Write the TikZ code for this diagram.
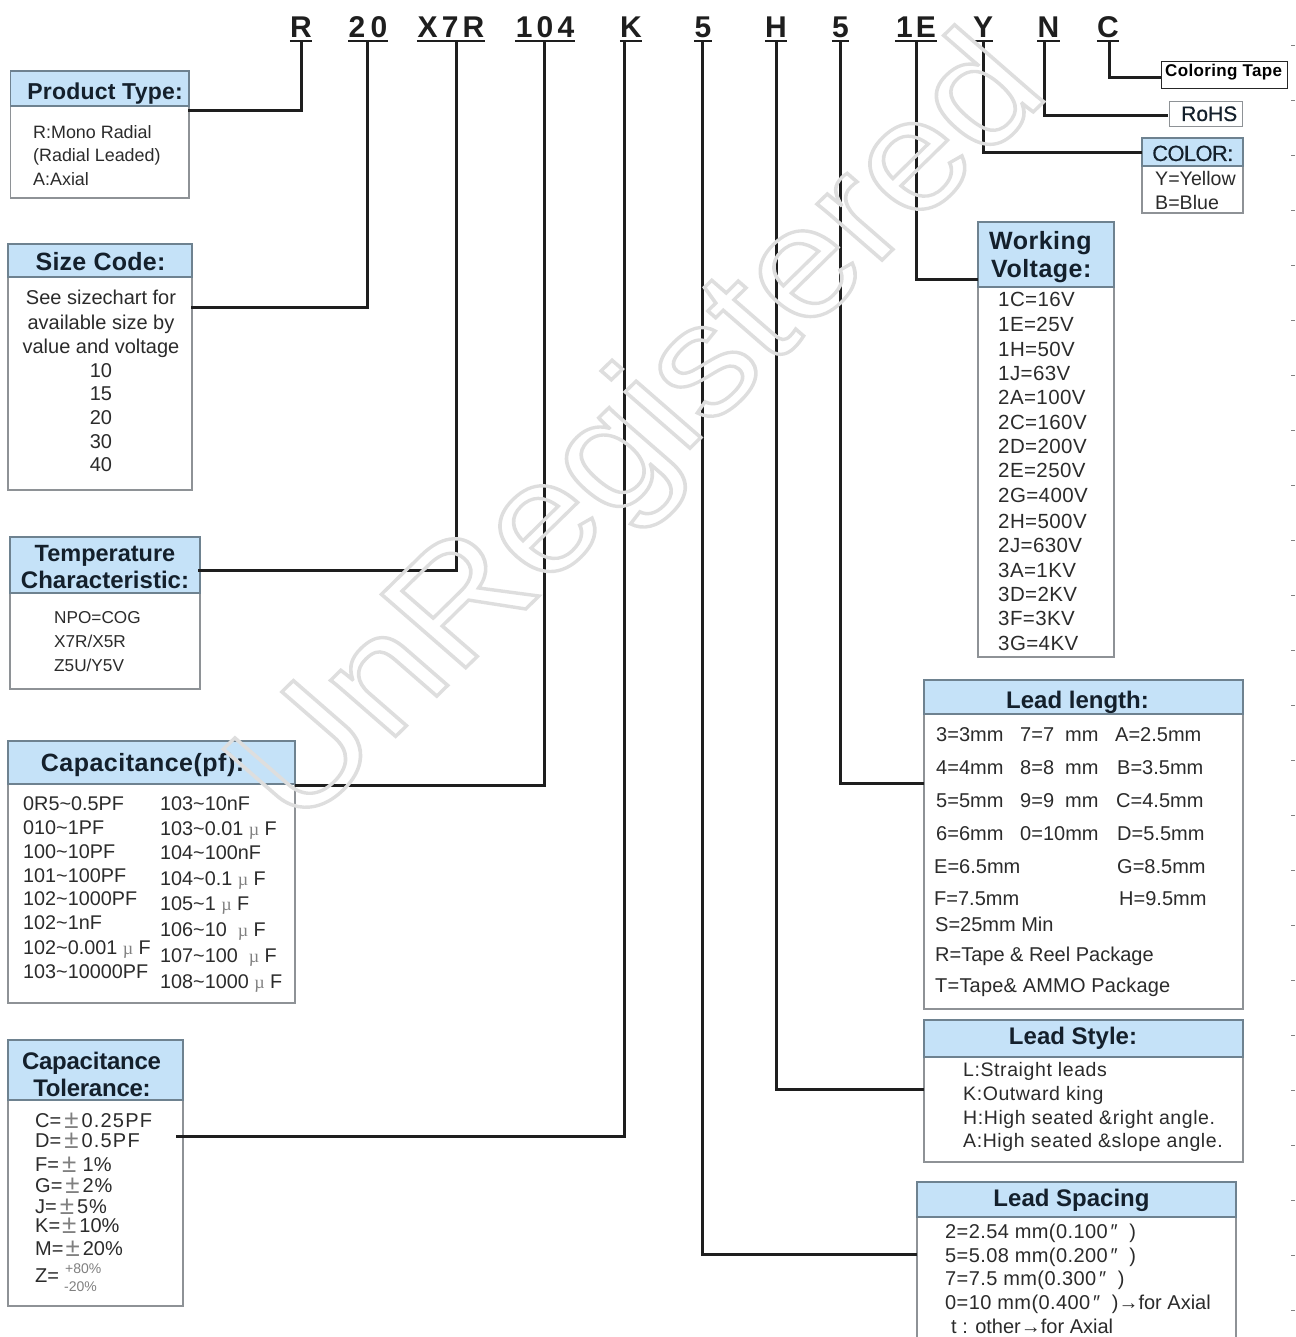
\documentclass[tikz,border=0pt]{standalone}
\usepackage{fontspec}
\setmainfont{Liberation Sans}
\newfontfamily\serifmu{Liberation Serif}
\definecolor{hdrfill}{HTML}{C5E2F8}
\definecolor{hdrline}{HTML}{6E8290}
\definecolor{bodyline}{HTML}{8E9296}
\definecolor{ink}{HTML}{2B2B2B}
\definecolor{headink}{HTML}{14202C}
\definecolor{wire}{HTML}{1E1E1E}
\newcommand{\szv}{20}
\newcommand{\setsz}[1]{\renewcommand{\szv}{#1}}
\newcommand{\trk}[2]{{\addfontfeature{LetterSpace=#1}#2}}
\newcommand{\pmk}{\hspace{3pt}{\color{gray}\fontsize{26}{26}\selectfont\raisebox{-1pt}{±}}\hspace{3pt}}
\newcommand{\muk}{{\color{gray}\serifmu\fontsize{18}{18}\selectfont µ}}
\newcommand{\primek}{\hspace{3pt}{\fontsize{20}{20}\selectfont ″}\hspace{6pt}}
\newcounter{tlc}
% body text line: x, baseline y, text
\newcommand{\tl}[3]{\stepcounter{tlc}\node[linetext] (tl\thetlc) at (#1,#2) {\fontsize{\szv}{\szv}\selectfont #3};}
\newcommand{\tc}[3]{\stepcounter{tlc}\node[linetext,anchor=base] (tl\thetlc) at (#1,#2) {\fontsize{\szv}{\szv}\selectfont #3};}
\newcommand{\hd}[4]{\stepcounter{tlc}\node[headtext] (tl\thetlc) at (#1,#2) {\fontsize{#3}{#3}\selectfont #4};}
% panel: name x0 y0 split x1 y1
\newcommand{\panel}[6]{%
 \node[bodybox,minimum width={(#5-#2)*1pt},minimum height={(#6-#3)*1pt}] (#1) at (#2,#3) {};
 \node[headbox,minimum width={(#5-#2)*1pt},minimum height={(#4-#3)*1pt}] (#1h) at (#2,#3) {};
}
\newcommand{\codeN}[5]{% name, left x, right x, text, tracking
 \node[codetext,minimum width={(#3-#2)*1pt}] (#1) at ({(#2+#3)/2},38) {\trk{#5}{#4}};
 \draw[codebar] (#1.south west) -- (#1.south east);
}
\tikzset{
 bodybox/.style={draw=bodyline,line width=1.1pt,fill=white,anchor=north west,inner sep=0pt,outer sep=0pt},
 headbox/.style={draw=hdrline,line width=1.1pt,fill=hdrfill,anchor=north west,inner sep=0pt,outer sep=0pt},
 linetext/.style={anchor=base west,inner sep=0pt,text=ink},
 headtext/.style={anchor=base,inner sep=0pt,text=headink,font=\bfseries},
 codetext/.style={anchor=base,inner sep=0pt,text=wire,font=\bfseries\fontsize{30}{30}\selectfont,text depth=2.5pt},
 codebar/.style={draw=wire,line width=1.8pt},
 wirel/.style={draw=wire,line width=3pt,line join=miter},
 tick/.style={draw=gray,line width=0.8pt},
}
\begin{document}
\begin{tikzpicture}[x=1pt,y=-1pt]
\useasboundingbox (0,0) rectangle (1295,1337);
% margin ticks
\foreach \k in {0,...,23} {\draw[tick] (1291,{45+55*\k}) -- (1295,{45+55*\k});}
% code letters
\codeN{cR}{290}{312}{R}{0}
\codeN{cS}{349}{387}{20}{18}
\codeN{cT}{417}{485}{X7R}{14}
\codeN{cV}{515}{575}{104}{14}
\codeN{cK}{620}{642}{K}{0}
\codeN{cP}{695}{711}{5}{0}
\codeN{cH}{765}{787}{H}{0}
\codeN{cL}{832}{849}{5}{0}
\codeN{cW}{895}{937}{1E}{10}
\codeN{cY}{973}{993}{Y}{0}
\codeN{cN}{1038}{1059}{N}{0}
\codeN{cC}{1098}{1118}{C}{0}
% panels
\panel{ptype}{10.5}{71}{106}{189}{198}
\panel{size}{8}{244}{277}{192}{490}
\panel{temp}{10}{537}{593}{200}{689}
\panel{capv}{8}{741}{784}{295}{1003}
\panel{tol}{8}{1040}{1100}{183}{1306}
\panel{volt}{978}{222}{287}{1114}{657}
\panel{llen}{924}{680}{714}{1243}{1009}
\panel{lsty}{924}{1020}{1057}{1243}{1162}
\panel{color}{1142}{138}{166}{1243}{213}
\node[draw=bodyline,line width=1.1pt,fill=white,anchor=north west,inner sep=0pt,minimum width=73pt,minimum height=25pt] (rohs) at (1169,101) {};
\node[draw=black!85,line width=1.1pt,fill=white,anchor=north west,inner sep=0pt,minimum width=126pt,minimum height=27pt] (tape) at (1161,61) {};
% lead spacing: runs off the page
\node[bodybox,draw=none,minimum width=319pt,minimum height=155pt] (lspc) at (917,1182) {};
\draw[bodyline,line width=1.1pt] (lspc.north west) -- (lspc.south west);
\draw[bodyline,line width=1.1pt] (lspc.north east) -- (lspc.south east);
\node[headbox,minimum width=319pt,minimum height=35pt] (lspch) at (917,1182) {};
% ports
\coordinate (pR) at (188,111);
\coordinate (pS) at (191,307);
\coordinate (pT) at (198,570);
\coordinate (pV) at (295,785);
\coordinate (pK) at (176,1136);
\coordinate (pP) at (917,1254);
\coordinate (pH) at (924,1089);
\coordinate (pL) at (924,783);
\coordinate (pW) at (978,280);
\coordinate (pY) at (1142,153);
\coordinate (pN) at (1168,116);
\coordinate (pC) at (1161,78);
\draw[wirel] (cR.south) |- (pR);
\draw[wirel] ([xshift=-1pt]cS.south) |- (pS);
\draw[wirel] ([xshift=5pt]cT.south) |- (pT);
\draw[wirel] ([xshift=-1pt]cV.south) |- (pV);
\draw[wirel] ([xshift=-6.5pt]cK.south) |- (pK);
\draw[wirel] ([xshift=-1pt]cP.south) |- (pP);
\draw[wirel] (cH.south) |- (pH);
\draw[wirel] (cL.south) |- (pL);
\draw[wirel] (cW.south) |- (pW);
\draw[wirel] (cY.south) |- (pY);
\draw[wirel] ([xshift=-4.5pt]cN.south) |- (pN);
\draw[wirel] ([xshift=1pt]cC.south) |- (pC);
% headers
\hd{105}{100}{23}{\trk{1}{Product Type:}}
\hd{100.5}{271}{25}{\trk{1}{Size Code:}}
\hd{105}{561}{23.5}{Temperature}
\hd{105}{588}{24}{Characteristic:}
\hd{142.5}{771}{25}{\trk{2}{Capacitance(pf):}}
\hd{91.5}{1069}{24}{\trk{-1}{Capacitance}}
\hd{92}{1096}{24}{\trk{-1}{Tolerance:}}
\stepcounter{tlc}\node[headtext,anchor=base west] (tl\thetlc) at (989,250) {\fontsize{25}{25}\selectfont\trk{2}{Working}};
\stepcounter{tlc}\node[headtext,anchor=base west] (tl\thetlc) at (991,278) {\fontsize{25}{25}\selectfont\trk{2}{Voltage:}};
\hd{1077.5}{708}{24}{Lead length:}
\hd{1073}{1044}{24}{Lead Style:}
\hd{1071.5}{1206}{24}{Lead Spacing}
\stepcounter{tlc}\node[linetext,text=headink] (tl\thetlc) at (1152,161) {\fontsize{22}{22}\selectfont{\addfontfeature{LetterSpace=-3,FakeBold=0.4}COLOR:}};
\stepcounter{tlc}\node[linetext,text=headink] (tl\thetlc) at (1181,121) {\fontsize{21}{21}\selectfont{\addfontfeature{FakeBold=0.4}RoHS}};
\stepcounter{tlc}\node[linetext,text=black,font=\bfseries] (tl\thetlc) at (1165,77) {\fontsize{17}{17}\selectfont\trk{2}{Coloring Tape}};
% product type
\setsz{17.9}
\tl{33}{139}{R:Mono Radial}
\tl{33}{162}{(Radial Leaded)}
\tl{33}{186}{A:Axial}
% size
\setsz{20}
\tc{101}{305}{See sizechart for}
\tc{101}{329}{available size by}
\tc{101}{353}{value and voltage}
\tc{101}{377}{10}
\tc{101}{400}{15}
\tc{101}{424}{20}
\tc{101}{448}{30}
\tc{101}{471}{40}
% temp
\setsz{17.2}
\tl{54}{623}{NPO=COG}
\tl{54}{647}{X7R/X5R}
\tl{54}{671}{Z5U/Y5V}
% capacitance
\setsz{19.8}
\tl{23}{810}{0R5\textasciitilde0.5PF}
\tl{23}{834}{010\textasciitilde1PF}
\tl{23}{858}{100\textasciitilde10PF}
\tl{23}{882}{101\textasciitilde100PF}
\tl{23}{905}{102\textasciitilde1000PF}
\tl{23}{929}{102\textasciitilde1nF}
\tl{23}{954}{102\textasciitilde0.001 \muk\ F}
\tl{23}{978}{103\textasciitilde10000PF}
\tl{160}{810}{103\textasciitilde10nF}
\tl{160}{835}{103\textasciitilde0.01 \muk\ F}
\tl{160}{859}{104\textasciitilde100nF}
\tl{160}{885}{104\textasciitilde0.1 \muk\ F}
\tl{160}{910}{105\textasciitilde1 \muk\ F}
\tl{160}{936}{106\textasciitilde10 \ \muk\ F}
\tl{160}{962}{107\textasciitilde100 \ \muk\ F}
\tl{160}{988}{108\textasciitilde1000 \muk\ F}
% tolerance
\setsz{20}
\tl{35}{1127}{C=\pmk\trk{6}{0.25PF}}
\tl{35}{1147}{D=\pmk\trk{6}{0.5PF}}
\tl{35}{1171}{F=\pmk\,1\%}
\tl{35}{1192}{G=\pmk\trk{4}{2\%}}
\tl{35}{1213}{J=\pmk\trk{4}{5\%}}
\tl{35}{1232}{K=\hspace{-1pt}\pmk 10\%}
\tl{35}{1255}{M=\hspace{-1pt}\pmk 20\%}
\tl{35}{1282}{Z=}
\stepcounter{tlc}\node[linetext,text=gray] (tl\thetlc) at (65,1273) {\fontsize{14}{14}\selectfont +80\%};
\stepcounter{tlc}\node[linetext,text=gray] (tl\thetlc) at (64,1291) {\fontsize{14}{14}\selectfont -20\%};
% voltage
\setsz{20.5}
\tl{998}{306}{\trk{2}{1C=16V}}
\tl{998}{331}{\trk{2}{1E=25V}}
\tl{998}{356}{\trk{2}{1H=50V}}
\tl{998}{380}{\trk{2}{1J=63V}}
\tl{998}{404}{\trk{2}{2A=100V}}
\tl{998}{429}{\trk{2}{2C=160V}}
\tl{998}{453}{\trk{2}{2D=200V}}
\tl{998}{477}{\trk{2}{2E=250V}}
\tl{998}{502}{\trk{2}{2G=400V}}
\tl{998}{528}{\trk{2}{2H=500V}}
\tl{998}{552}{\trk{2}{2J=630V}}
\tl{998}{577}{\trk{2}{3A=1KV}}
\tl{998}{601}{\trk{2}{3D=2KV}}
\tl{998}{625}{\trk{2}{3F=3KV}}
\tl{998}{650}{\trk{2}{3G=4KV}}
% lead length
\setsz{20}
\tl{936}{741}{3=3mm}\tl{1020}{741}{7=7~~mm}\tl{1115}{741}{A=2.5mm}
\tl{936}{774}{4=4mm}\tl{1020}{774}{8=8~~mm}\tl{1117}{774}{B=3.5mm}
\tl{936}{807}{5=5mm}\tl{1020}{807}{9=9~~mm}\tl{1116}{807}{C=4.5mm}
\tl{936}{840}{6=6mm}\tl{1020}{840}{0=10mm}\tl{1117}{840}{D=5.5mm}
\tl{934}{873}{E=6.5mm}\tl{1117}{873}{G=8.5mm}
\tl{934}{905}{F=7.5mm}\tl{1119}{905}{H=9.5mm}
\tl{935}{931}{S=25mm Min}
\tl{935}{961}{R=Tape \& Reel Package}
\tl{935}{992}{\trk{1}{T=Tape\& AMMO Package}}
% lead style
\setsz{19.5}
\tl{963}{1076}{\trk{3}{L:Straight leads}}
\tl{963}{1100}{\trk{3}{K:Outward king}}
\tl{963}{1124}{\trk{3}{H:High seated \&right angle.}}
\tl{963}{1147}{\trk{3}{A:High seated \&slope angle.}}
% lead spacing
\setsz{20}
\tl{945}{1238}{\trk{2}{2=2.54 mm(0.100}\primek\ )}
\tl{945}{1262}{\trk{2}{5=5.08 mm(0.200}\primek\ )}
\tl{945}{1285}{\trk{2}{7=7.5 mm(0.300}\primek\ )}
\tl{945}{1309}{\trk{2}{0=10 mm(0.400}\primek\ )→for Axial}
\tl{951}{1333}{t : other→for Axial}
% color
\setsz{19.6}
\tl{1155}{186}{Y=Yellow}
\tl{1155}{210}{B=Blue}
% watermark
\begin{scope}[shift={(298,832)},rotate=44.4,xslant=-0.08,xscale=1.065]
\node[transform shape,anchor=base west,inner sep=0pt] (mark) at (0,0)
 {\fontsize{162}{162}\selectfont\special{pdf:literal direct 1 Tr 3.4 w 0.87 0.87 0.87 RG}UnRegistered\special{pdf:literal direct 0 Tr}};
\end{scope}
\end{tikzpicture}
\end{document}
